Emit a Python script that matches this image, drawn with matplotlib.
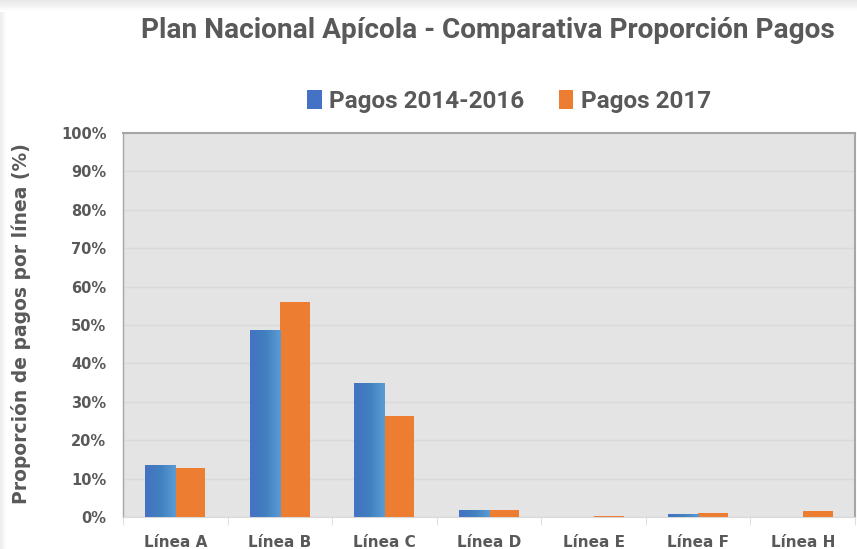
import numpy as np
import matplotlib.pyplot as plt
from matplotlib.ticker import PercentFormatter
from matplotlib.colors import LinearSegmentedColormap

# Data (%)
categories = ['Línea A', 'Línea B', 'Línea C', 'Línea D', 'Línea E', 'Línea F', 'Línea H']
pagos_2014_2016 = [13.5, 48.6, 35.0, 1.8, 0.0, 0.7, 0.0]
pagos_2017 = [12.7, 56.1, 26.4, 1.9, 0.25, 0.95, 1.55]

grey_txt = '#595959'
blue_dark = '#4472C4'
blue_light = '#5B9BD5'
orange = '#ED7D31'
narrow = ['Roboto', 'DejaVu Sans']

fig = plt.figure(figsize=(8.57, 5.49), dpi=100)

# faint shadow along the top and left edge of the picture
shade = fig.add_axes([0, 0, 1, 1], zorder=-1)
shade.axis('off')
shade.imshow(np.linspace(0.90, 1, 12).reshape(-1, 1), cmap='gray', vmin=0, vmax=1,
             aspect='auto', extent=(0, 1, 0.978, 1.0))
shade.imshow(np.linspace(0.93, 1, 8).reshape(1, -1), cmap='gray', vmin=0, vmax=1,
             aspect='auto', extent=(0, 0.008, 0, 0.978))
shade.set_xlim(0, 1)
shade.set_ylim(0, 1)

ax = fig.add_axes([0.1435, 0.0583, 0.8542, 0.6994])
ax.set_facecolor('#E4E4E4')

x = np.arange(len(categories))
w = 0.287
bars_b = ax.bar(x - w/2, pagos_2014_2016, w, color=blue_dark, label='Pagos 2014-2016', zorder=3)
bars_o = ax.bar(x + w/2, pagos_2017, w, color=orange, label='Pagos 2017', zorder=3)

# gradient fill on the blue bars (dark left -> light right)
grad = np.linspace(0, 1, 64).reshape(1, -1)
cmap = LinearSegmentedColormap.from_list('bl', [blue_dark, '#4180BE', blue_light])
for b in bars_b:
    if b.get_height() <= 0:
        continue
    x0, y0 = b.get_x(), b.get_y()
    im = ax.imshow(grad, cmap=cmap, aspect='auto', zorder=4,
                   extent=(x0, x0 + b.get_width(), y0, y0 + b.get_height()))
    im.set_clip_path(b)

ax.set_xlim(-0.5, len(categories) - 0.5)
ax.set_ylim(0, 100)
ax.set_yticks(np.arange(0, 101, 10))
ax.yaxis.set_major_formatter(PercentFormatter(decimals=0))
ax.grid(axis='y', color='#D9D9D9', linewidth=1, zorder=0)

ax.set_xticks(x)
ax.set_xticklabels(categories)
ax.set_xticks(np.arange(-0.5, len(categories)), minor=True)
ax.tick_params(axis='x', which='major', length=0, pad=13)
ax.tick_params(axis='x', which='minor', length=6, color='#D9D9D9')
ax.tick_params(axis='y', length=0, pad=12)
for lab in ax.get_xticklabels():
    lab.set_fontsize(11)
    lab.set_fontweight('bold')
    lab.set_color(grey_txt)
for lab in ax.get_yticklabels():
    lab.set_fontsize(10.5)
    lab.set_fontweight('bold')
    lab.set_color(grey_txt)

for side in ['top', 'right', 'left']:
    ax.spines[side].set_color('#A6A6A6')
    ax.spines[side].set_linewidth(1.5)
ax.spines['left'].set_linewidth(1)
ax.spines['bottom'].set_color('#D9D9D9')

ax.set_ylabel('Proporción de pagos por línea (%)', fontsize=13.5, fontweight='bold',
              color=grey_txt)
ax.yaxis.set_label_coords(-0.125, 0.505)

fig.text(0.569, 0.945, 'Plan Nacional Apícola - Comparativa Proporción Pagos',
         ha='center', va='center', fontsize=20.2, fontweight='bold', color=grey_txt,
         family=narrow)

leg = fig.legend(handles=[bars_b, bars_o], loc='center', bbox_to_anchor=(0.594, 0.815),
                 ncol=2, frameon=False, handlelength=0.6, handleheight=0.8,
                 handletextpad=0.3, columnspacing=1.4,
                 prop={'family': narrow, 'weight': 'bold', 'size': 17.5})
for t in leg.get_texts():
    t.set_color(grey_txt)

fig.savefig('out.png', dpi=100)
